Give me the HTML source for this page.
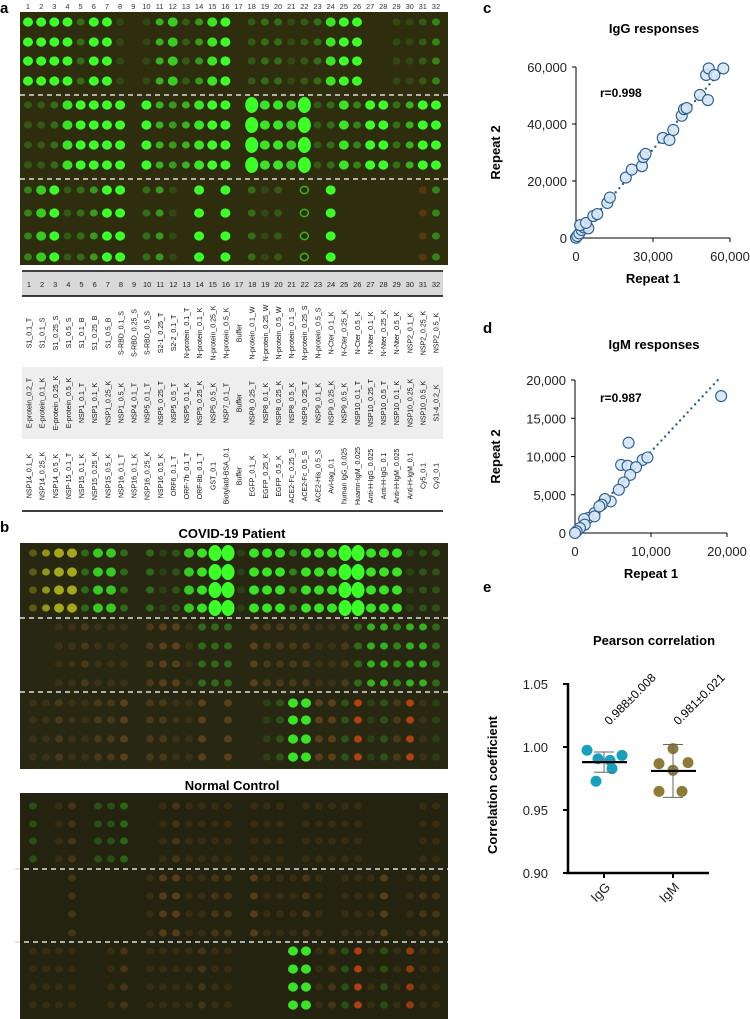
<!DOCTYPE html>
<html><head><meta charset="utf-8"><style>
html,body{margin:0;padding:0;background:#fff;}
svg{display:block;font-family:"Liberation Sans",Arial,sans-serif;}
</style></head><body>
<svg id="fig" width="750" height="1019" viewBox="0 0 750 1019" xmlns="http://www.w3.org/2000/svg">
<g id="panelA">
<text x="0" y="13" font-size="15" font-weight="bold">a</text>
<rect x="20" y="12" width="428" height="253" fill="#2e2e0f"/>
</g>
<g id="table">
<rect x="22" y="272" width="421" height="24" fill="#d9d9d9"/>
<rect x="22" y="367" width="421" height="72" fill="#eeeeee"/>
<line x1="22" y1="271" x2="443" y2="271" stroke="#000" stroke-width="1.5"/>
<line x1="22" y1="296" x2="443" y2="296" stroke="#000" stroke-width="1.5"/>
<line x1="22" y1="511" x2="443" y2="511" stroke="#000" stroke-width="1.5"/>
</g>
<g id="panelB">
<text x="0" y="532" font-size="15" font-weight="bold">b</text>
<text x="232" y="538" font-size="13" font-weight="bold" text-anchor="middle">COVID-19 Patient</text>
<rect x="20" y="543" width="428" height="226" fill="#282812"/>
<text x="232" y="790" font-size="13" font-weight="bold" text-anchor="middle">Normal Control</text>
<rect x="20" y="793" width="428" height="226" fill="#23230f"/>
</g>
<g id="panelC">
<text x="483" y="13" font-size="15" font-weight="bold">c</text>
<text x="654" y="33" font-size="13" font-weight="bold" text-anchor="middle">IgG responses</text>
</g>
<g id="panelD">
<text x="483" y="333" font-size="15" font-weight="bold">d</text>
<text x="654" y="349" font-size="13" font-weight="bold" text-anchor="middle">IgM responses</text>
</g>
<g id="panelE">
<text x="483" y="592" font-size="15" font-weight="bold">e</text>
<text x="654" y="645" font-size="13" font-weight="bold" text-anchor="middle">Pearson correlation</text>
</g>
</svg>
<script>
// ---- chart data ----
const iggRepeat1 = [0,520,1300,2200,3100,4200,4800,1600,3900,6750,8300,12200,13200,19400,21700,25700,26200,27100,33800,36400,37900,41200,42100,43100,48300,51400,50700,51700,53900,57400];
const iggRepeat2 = [116,700,1630,2800,3700,4400,3400,4500,5300,7700,8400,12300,14200,21200,24000,25200,28400,29500,35100,34400,37900,42900,45200,45600,50200,48400,57200,59500,57200,59500];
const iggTrend = [0,0,57400,59500];
const iggTicksY = [0,20000,40000,60000];
const iggTicksX = [0,30000,60000];
const igmRepeat1 = [19230,7050,6070,6920,8900,9530,8030,7260,6410,5770,4700,3930,3500,2560,1710,1200,1280,640,210,0,3200,2560];
const igmRepeat2 = [17900,11800,8900,8780,9570,9870,8600,7600,6600,5650,4130,4430,3700,2600,1960,1830,1090,650,220,0,3480,2170];
const igmTrend = [0,0,18800,20000];
const igmTicksY = [0,5000,10000,15000,20000];
const igmTicksX = [0,10000,20000];
const pearsonGroups = ['IgG','IgM'];
const pearsonIgG = [0.9974,0.9907,0.9894,0.9934,0.9828,0.9728];
const pearsonIgM = [0.9987,0.9868,0.9876,0.9815,0.9648,0.9648];
const pearsonMeans = [0.988,0.981];
const pearsonSD = [0.008,0.021];
const pearsonLabels = ['0.988\u00B10.008','0.981\u00B10.021'];
const pearsonTicks = [0.90,0.95,1.00,1.05];
const jitterIgG = [-17,-6,6,18,8,-8];
const jitterIgM = [0,-14,15,0,-14,9];

const NS='http://www.w3.org/2000/svg';
const svg=document.getElementById('fig');
function mk(tag,attrs,parent,txt){const e=document.createElementNS(NS,tag);for(const k in attrs)e.setAttribute(k,attrs[k]);if(txt!==undefined)e.textContent=txt;(parent||svg).appendChild(e);return e;}
const fmt=v=>v.toLocaleString('en-US');

// ---- array spot images ----
const COL={g:[60,255,40],y:[205,210,30],o:[200,120,48],r:[255,80,16]};
function drawArray(parent,x0,step,rowYs,blocks,bg,big){
  blocks.forEach((str,bi)=>{
    const toks=str.trim().split(/\s+/);
    toks.forEach((t,ci)=>{
      const lvl=parseInt(t[0]);if(!lvl)return;
      const c=COL[t[1]||'g'];const ring=t[2]==='R';
      const a=0.05+0.95*Math.pow(lvl/9,1.2);
      const col=`rgb(${Math.round(bg[0]+(c[0]-bg[0])*a)},${Math.round(bg[1]+(c[1]-bg[1])*a)},${Math.round(bg[2]+(c[2]-bg[2])*a)})`;
      rowYs[bi].forEach((y,ri)=>{
        const cx=x0+step*ci;const isBig=big&&big[bi]&&big[bi].includes(ci+1);
        const e=mk('ellipse',{cx:cx,cy:y,rx:isBig?6.5:(lvl>=7?5:4),ry:isBig?8:(lvl>=7?4.6:3.6),fill:ring?'none':col,stroke:ring?col:'none','stroke-width':ring?1.5:0},parent);
        
        
      });
    });
  });
}
const pA=document.getElementById('panelA');
for(let i=1;i<=32;i++){const t=mk('text',{x:28+13.16*(i-1),y:9,'font-size':7.5,'text-anchor':'middle',fill:'#333'},pA,String(i));

}
drawArray(pA,28,13.16,[[22,42,61,81],[105,125,145,165],[190,213,236,257]],[
'9g 9g 9g 9g 3g 9g 9g 1g 0 1g 6g 7g 2g 5g 8g 9g 0 2g 3g 3g 1g 2g 3g 8g 9g 9g 0 0 1g 1g 2g 4g',
'2g 2g 3g 8g 9g 9g 9g 9g 0 9g 6g 5g 6g 8g 9g 9g 0 9g 8g 8g 7g 9g 2g 3g 8g 4g 9g 9g 3g 6g 9g 9g',
'4g 7g 9g 2g 3g 5g 9g 9g 0 3g 5g 1g 0 9g 0 9g 0 3g 1g 2g 0 6gR 0 9g 0 0 0 0 0 0 2r 4g'],[47,47,16],[null,[18,22],null]);
mk('line',{x1:20,y1:95,x2:448,y2:95,stroke:'#ddd','stroke-width':1.6,'stroke-dasharray':'5,4'},pA);
mk('line',{x1:20,y1:179,x2:448,y2:179,stroke:'#ddd','stroke-width':1.6,'stroke-dasharray':'5,4'},pA);

// ---- table ----
const tbl=document.getElementById('table');
const row1=['S1_0.1_T','S1_0.1_S','S1_0.25_S','S1_0.5_S','S1_0.1_B','S1_0.25_B','S1_0.5_B','S-RBD_0.1_S','S-RBD_0.25_S','S-RBD_0.5_S','S2-1_0.25_T','S2-2_0.1_T','N-protein_0.1_T','N-protein_0.1_K','N-protein_0.25_K','N-protein_0.5_K','Buffer','N-protein_0.1_W','N-protein_0.25_W','N-protein_0.5_W','N-protein_0.1_S','N-protein_0.25_S','N-protein_0.5_S','N-Cter_0.1_K','N-Cter_0.25_K','N-Cter_0.5_K','N-Nter_0.1_K','N-Nter_0.25_K','N-Nter_0.5_K','NSP2_0.1_K','NSP2_0.25_K','NSP2_0.5_K'];
const row2=['E-protein_0.2_T','E-protein_0.1_K','E-protein_0.25_K','E-protein_0.5_K','NSP1_0.1_T','NSP1_0.1_K','NSP1_0.25_K','NSP1_0.5_K','NSP4_0.1_T','NSP5_0.1_T','NSP5_0.25_T','NSP5_0.5_T','NSP5_0.1_K','NSP5_0.25_K','NSP5_0.5_K','NSP7_0.1_T','Buffer','NSP8_0.25_T','NSP8_0.1_K','NSP8_0.25_K','NSP8_0.5_K','NSP9_0.25_T','NSP9_0.1_K','NSP9_0.25_K','NSP9_0.5_K','NSP10_0.1_T','NSP10_0.25_T','NSP10_0.5_T','NSP10_0.1_K','NSP10_0.25_K','NSP10_0.5_K','S1-4_0.2_K'];
const row3=['NSP14_0.1_K','NSP14_0.25_K','NSP14_0.5_K','NSP-15_0.1_T','NSP15_0.1_K','NSP15_0.25_K','NSP15_0.5_K','NSP16_0.1_T','NSP16_0.1_K','NSP16_0.25_K','NSP16_0.5_K','ORF6_0.1_T','ORF-7b_0.1_T','ORF-8b_0.1_T','GST_0.1','Biotylatd-BSA_0.1','Buffer','EGFP_0.1_K','EGFP_0.25_K','EGFP_0.5_K','ACE2-Fc_0.25_S','ACE2-Fc_0.5_S','ACE2-His_0.5_S','Avi-tag_0.1','human IgG_0.025','Huamn-IgM_0.025','Anti-H-IgG_0.025','Anti-H-IgG_0.1','Anti-H-IgM_0.025','Anti-H-IgM_0.1','Cy5_0.1','Cy3_0.1'];
[[row1,333],[row2,403],[row3,476]].forEach(([arr,cy])=>{
  arr.forEach((s,i)=>{const x=29+13.13*i+2.5;
    const t=mk('text',{x:x,y:cy,'font-size':7,'text-anchor':'middle',fill:'#111',transform:`rotate(-90 ${x} ${cy})`},tbl,s);
    
    });
});
for(let i=1;i<=32;i++){const t=mk('text',{x:29+13.13*(i-1),y:287,'font-size':7.5,'text-anchor':'middle',fill:'#222'},tbl,String(i));

}

// ---- panel b ----
const pB=document.getElementById('panelB');
drawArray(pB,33,13,[[553,572,590,608],[627,646,664,683],[703,720,739,757]],[
'3y 6y 7y 7y 3g 7g 7g 3g 0 3g 1g 2g 7g 8g 9g 9g 1g 8g 8g 8g 4g 8g 8g 8g 9g 9g 8g 8g 8g 1g 2g 2g',
'0 0 1o 1o 2o 1o 1o 1o 0 2o 3o 3o 1o 3g 3g 3g 0 3o 2o 2o 2o 2o 1o 1o 2o 3g 6g 6g 4g 6g 6g 3g',
'1o 1o 2o 1o 1o 2o 2o 3o 0 2o 2o 1o 1o 3o 0 3o 0 0 1g 2g 8g 8g 3o 3o 2g 6r 1g 2g 2o 6r 1o 1g'],[40,40,18],[[15,16,25,26],null,null]);
drawArray(pB,33,13,[[806,824,841,859],[878,896,914,933],[951,969,987,1005]],[
'2g 0 1o 2o 0 2g 2g 3g 0 0 1o 2o 1o 1o 1o 1o 0 1o 1o 1o 0 1o 1o 1o 1o 1o 0 0 0 0 1o 1o',
'0 0 0 2o 0 0 0 0 0 1o 3o 3o 1o 1o 2o 2o 0 3o 1o 1o 1o 2o 1o 0 1o 1o 1o 3o 0 1o 2o 2o',
'1o 1o 1o 1o 0 0 1o 2o 0 1o 1o 1o 1o 2o 1o 1o 0 0 0 0 8g 8g 1o 2o 2g 6r 1o 2g 1o 5r 1o 1o'],[35,35,15],null);
[618,692,869,942].forEach(y=>{const l=mk('line',{x1:y>800?15:20,y1:y,x2:448,y2:y,stroke:'#ddd','stroke-width':1.6,'stroke-dasharray':'5,4'},pB);

});

// ---- scatter helper ----
function scatter(g,xs,ys,trend,ticksY,ticksX,geo,rLabel,rY){
  const X=v=>geo.x0+(v/geo.xmax)*(geo.x1-geo.x0);
  const Y=v=>geo.y0-(v/geo.ymax)*(geo.y0-geo.y1);
  mk('line',{x1:geo.x0,y1:geo.y1,x2:geo.x0,y2:geo.y0,stroke:'#000','stroke-width':1},g);
  mk('line',{x1:geo.x0,y1:geo.y0,x2:geo.x1,y2:geo.y0,stroke:'#000','stroke-width':1},g);
  ticksY.forEach(v=>{mk('line',{x1:geo.x0-4,y1:Y(v),x2:geo.x0,y2:Y(v),stroke:'#000'},g);
    const t=mk('text',{x:geo.x0-9,y:Y(v)+5,'font-size':13,'text-anchor':'end',fill:'#222'},g,fmt(v));
    
    });
  ticksX.forEach(v=>{mk('line',{x1:X(v),y1:geo.y0,x2:X(v),y2:geo.y0+4,stroke:'#000'},g);
    const t=mk('text',{x:X(v),y:geo.y0+23,'font-size':13,'text-anchor':'middle',fill:'#222'},g,fmt(v));
    
    });
  const tl=mk('line',{x1:X(trend[0]),y1:Y(trend[1]),x2:X(trend[2]),y2:Y(trend[3]),stroke:'#2b5d8c','stroke-width':2.4,'stroke-dasharray':'0 5.5','stroke-linecap':'round'},g);
  
  
  xs.forEach((v,i)=>{const c=mk('circle',{cx:X(v),cy:Y(ys[i]),r:5.5,fill:'#d5e5f3','fill-opacity':0.9,stroke:'#2b5d8c','stroke-width':1.1},g);
    
    });
  const r=mk('text',{x:600,y:rY,'font-size':12,'font-weight':'bold'},g,rLabel);
  
  
  const xt=mk('text',{x:(geo.x0+geo.x1)/2,y:geo.y0+45,'font-size':13,'font-weight':'bold','text-anchor':'middle'},g,'Repeat 1');
  
  
  const cy=(geo.y0+geo.y1)/2;
  const yt=mk('text',{x:500,y:cy,'font-size':13,'font-weight':'bold','text-anchor':'middle',transform:`rotate(-90 500 ${cy})`},g,'Repeat 2');
  
  
}
scatter(document.getElementById('panelC'),iggRepeat1,iggRepeat2,iggTrend,iggTicksY,iggTicksX,{x0:576,x1:730,y0:238,y1:67,xmax:60000,ymax:60000},'r=0.998',97);
scatter(document.getElementById('panelD'),igmRepeat1,igmRepeat2,igmTrend,igmTicksY,igmTicksX,{x0:575,x1:727,y0:533,y1:380,xmax:20000,ymax:20000},'r=0.987',402);

// ---- panel e ----
const pE=document.getElementById('panelE');
const EY=v=>873-(v-0.90)/0.05*63;
const EX=[604,673];
mk('line',{x1:568,y1:683,x2:568,y2:874,stroke:'#000','stroke-width':2.5},pE);
mk('line',{x1:566,y1:873,x2:709,y2:873,stroke:'#000','stroke-width':2.5},pE);
pearsonTicks.forEach(v=>{mk('line',{x1:563,y1:EY(v),x2:568,y2:EY(v),stroke:'#000','stroke-width':2},pE);
  const t=mk('text',{x:548,y:EY(v)+5,'font-size':13,'text-anchor':'end',fill:'#222'},pE,v.toFixed(2));
  
  });
pearsonGroups.forEach((gname,gi)=>{
  const x=EX[gi];
  mk('line',{x1:x,y1:873,x2:x,y2:878,stroke:'#000','stroke-width':2},pE);
  const t=mk('text',{x:x+7,y:888,'font-size':13,'text-anchor':'end',fill:'#222',transform:`rotate(-45 ${x+7} 888)`},pE,gname);
  
  
  const vals=gi===0?pearsonIgG:pearsonIgM;const jit=gi===0?jitterIgG:jitterIgM;
  const col=gi===0?'#1aa0bf':'#8e7b37';
  vals.forEach((v,i)=>{const c=mk('circle',{cx:x+jit[i],cy:EY(v),r:5.5,fill:col},pE);
    
    });
  const m=pearsonMeans[gi],s=pearsonSD[gi];
  mk('line',{x1:x,y1:EY(m+s),x2:x,y2:EY(m-s),stroke:'#666','stroke-width':1},pE);
  mk('line',{x1:x-10,y1:EY(m+s),x2:x+10,y2:EY(m+s),stroke:'#666','stroke-width':1},pE);
  mk('line',{x1:x-10,y1:EY(m-s),x2:x+10,y2:EY(m-s),stroke:'#666','stroke-width':1},pE);
  const ml=mk('line',{x1:x-22,y1:EY(m),x2:x+23,y2:EY(m),stroke:'#000','stroke-width':2.2},pE);
  
  
  const lx=x+29,ly=702;
  const a=mk('text',{x:lx,y:ly,'font-size':12,'text-anchor':'middle',transform:`rotate(-45 ${lx} ${ly})`},pE,pearsonLabels[gi]);
  
  
});
const yt=mk('text',{x:497,y:785,'font-size':13,'font-weight':'bold','text-anchor':'middle',transform:'rotate(-90 497 785)'},pE,'Correlation coefficient');


</script>
</body></html>
